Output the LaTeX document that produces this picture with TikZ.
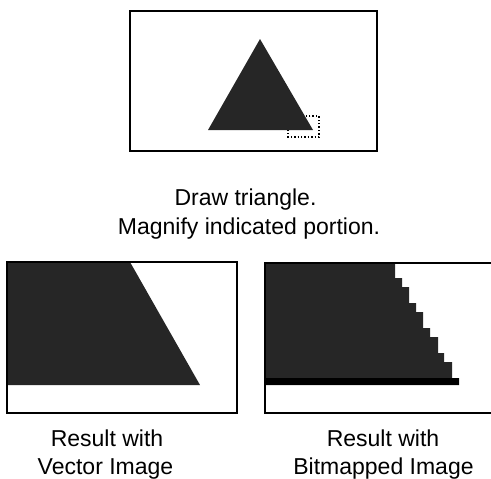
\documentclass[tikz,border=0pt]{standalone}
\usepackage{fontspec}
\setmainfont{Liberation Sans}
\begin{document}
\begin{tikzpicture}[x=1pt,y=-1pt,
  frame/.style={draw=black,line width=1.4pt},
  ink/.style={fill=black!85},
  lbl/.style={anchor=base,inner sep=0pt,font=\fontsize{23}{29}\selectfont}]
\useasboundingbox (0,0) rectangle (491,479);
\clip (0,0) rectangle (491,479);
% top panel
\draw[frame,line width=1.2pt] (130,11) rectangle (377,151);
\draw[dotted,line width=1.4pt] (288,116) rectangle (319,137);
\fill[ink] (260,39) -- (313,130) -- (208,130) -- cycle;
\node[lbl] (t1) at (245.5,205) {Draw triangle.};
\node[lbl] (t2) at (249,234) {Magnify indicated portion.};
% vector result
\fill[ink] (7,262) -- (130,262) -- (200,385) -- (7,385) -- cycle;
\draw[frame] (7,262) rectangle (237,413);
\node[lbl] (v1) at (107,446) {Result with};
\node[lbl] (v2) at (105.5,474) {Vector Image};
% bitmap result
\fill[ink] (265,263) -- (395,263) -- (395,278) -- (402,278) -- (402,287)
  -- (409,287) -- (409,303) -- (416,303) -- (416,312) -- (423,312)
  -- (423,328) -- (430,328) -- (430,337) -- (438,337) -- (438,353)
  -- (444,353) -- (444,362) -- (452,362) -- (452,378) -- (459,378)
  -- (459,385) -- (265,385) -- cycle;
\fill[black] (265,378) rectangle (459,385);
\draw[frame] (500,263) -- (265,263) -- (265,413) -- (500,413);
\node[lbl] (b1) at (383,446) {Result with};
\node[lbl] (b2) at (383.5,474) {Bitmapped Image};
\end{tikzpicture}
\end{document}
